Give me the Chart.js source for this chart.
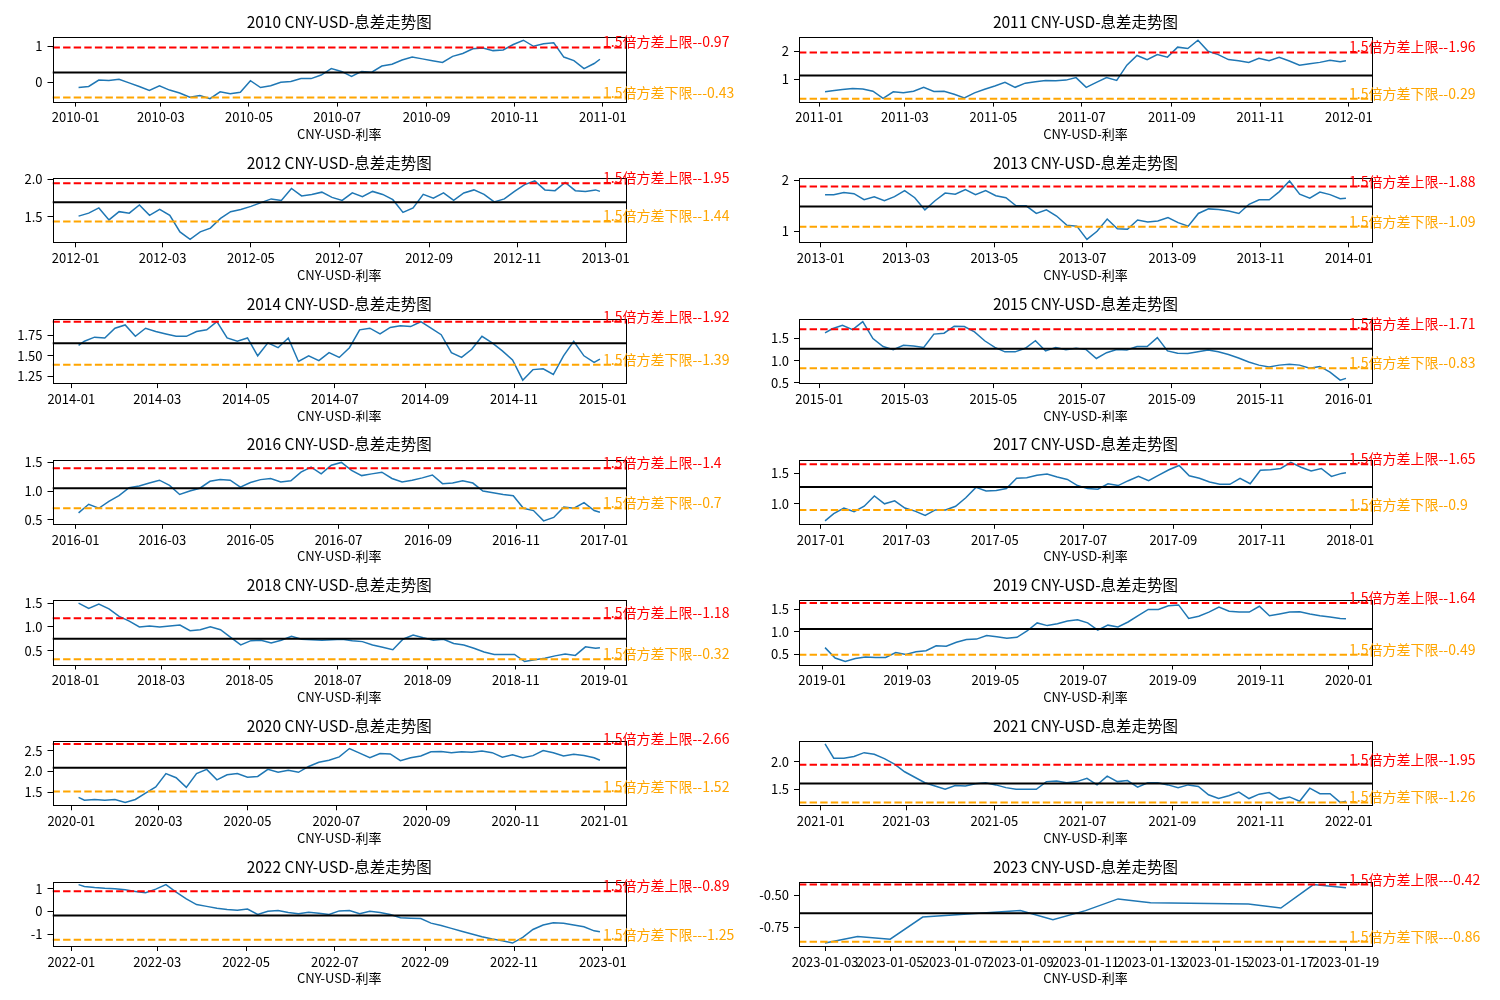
<!DOCTYPE html>
<html>
<head>
<meta charset="utf-8">
<script src="https://cdn.jsdelivr.net/npm/chart.js@4.4.0/dist/chart.umd.min.js"></script>
<style>
  html, body { margin: 0; padding: 0; background: #fff; }
  body { width: 1500px; height: 1000px; position: relative; overflow: hidden; }
  canvas { position: absolute; }
</style>
</head>
<body>
<script>
// ---------------- DATA ----------------
const years = [2010, 2011, 2012, 2013, 2014, 2015, 2016, 2017, 2018, 2019, 2020, 2021, 2022, 2023];
const chartTitleSuffix = ' CNY-USD-息差走势图';
const xAxisTitle = 'CNY-USD-利率';
const upperPrefix = '1.5倍方差上限--';
const lowerPrefix = '1.5倍方差下限--';

// sampling days (days after Jan 1) for the yearly series
const firstDays = [2, 4, 2, 3, 5, 4, 2, 3, 2, 2, 5, 3, 5];
const interiorDays = [9,16,23,30,37,44,51,58,65,72,79,86,93,100,107,114,121,128,135,142,149,156,163,170,177,184,191,198,205,212,219,226,233,240,247,254,261,268,275,282,289,296,303,310,317,324,331,338,345,352,359];
const lastDays = [363, 363, 362, 363, 363, 363, 363, 362, 362, 363, 363, 363, 363];

const spread2010 = [-0.15,-0.12,0.06,0.05,0.08,-0.02,-0.12,-0.23,-0.1,-0.22,-0.3,-0.42,-0.37,-0.46,-0.27,-0.32,-0.28,0.04,-0.15,-0.1,0.0,0.02,0.1,0.1,0.2,0.38,0.3,0.16,0.3,0.28,0.45,0.5,0.62,0.7,0.65,0.6,0.55,0.72,0.8,0.93,0.95,0.88,0.9,1.05,1.17,1.0,1.07,1.1,0.7,0.6,0.38,0.52,0.64];
const spread2011 = [0.54,0.58,0.62,0.66,0.64,0.56,0.3,0.54,0.5,0.56,0.7,0.55,0.56,0.45,0.32,0.5,0.63,0.75,0.88,0.7,0.85,0.9,0.95,0.94,0.96,1.05,0.7,0.88,1.05,0.95,1.5,1.85,1.7,1.88,1.79,2.15,2.1,2.4,2.0,1.88,1.7,1.66,1.6,1.75,1.66,1.78,1.65,1.5,1.55,1.6,1.68,1.62,1.66];
const spread2012 = [1.51,1.55,1.62,1.46,1.57,1.55,1.66,1.52,1.6,1.52,1.3,1.2,1.3,1.35,1.48,1.57,1.6,1.64,1.69,1.74,1.72,1.88,1.78,1.8,1.83,1.76,1.72,1.82,1.77,1.84,1.8,1.73,1.56,1.62,1.8,1.75,1.82,1.72,1.82,1.86,1.8,1.7,1.74,1.84,1.93,1.98,1.86,1.85,1.96,1.85,1.84,1.86,1.84];
const spread2013 = [1.72,1.72,1.76,1.74,1.62,1.68,1.6,1.68,1.8,1.66,1.42,1.6,1.75,1.73,1.82,1.72,1.8,1.7,1.66,1.5,1.5,1.35,1.42,1.3,1.12,1.1,0.84,1.0,1.24,1.05,1.04,1.22,1.18,1.2,1.27,1.17,1.1,1.35,1.44,1.43,1.4,1.35,1.53,1.62,1.62,1.78,1.99,1.73,1.65,1.77,1.72,1.64,1.65];
const spread2014 = [1.63,1.68,1.73,1.72,1.84,1.88,1.74,1.84,1.8,1.77,1.74,1.74,1.8,1.82,1.92,1.72,1.68,1.72,1.5,1.66,1.6,1.72,1.43,1.5,1.44,1.54,1.48,1.6,1.82,1.84,1.77,1.85,1.87,1.86,1.92,1.84,1.76,1.54,1.48,1.58,1.74,1.66,1.56,1.45,1.2,1.33,1.34,1.27,1.5,1.68,1.5,1.42,1.46];
const spread2015 = [1.63,1.72,1.8,1.7,1.88,1.5,1.32,1.25,1.35,1.33,1.3,1.6,1.62,1.78,1.77,1.65,1.45,1.3,1.2,1.2,1.28,1.45,1.22,1.3,1.25,1.28,1.25,1.05,1.18,1.25,1.24,1.32,1.32,1.52,1.22,1.17,1.16,1.2,1.24,1.2,1.14,1.06,0.97,0.9,0.86,0.9,0.92,0.9,0.83,0.87,0.74,0.56,0.6];
const spread2016 = [0.62,0.77,0.7,0.82,0.92,1.06,1.09,1.14,1.19,1.1,0.94,1.0,1.05,1.17,1.2,1.19,1.07,1.15,1.2,1.22,1.16,1.18,1.33,1.42,1.3,1.45,1.5,1.36,1.27,1.3,1.33,1.22,1.16,1.19,1.23,1.28,1.13,1.14,1.18,1.14,1.0,0.97,0.94,0.92,0.7,0.66,0.48,0.54,0.72,0.7,0.8,0.66,0.63];
const spread2017 = [0.72,0.84,0.93,0.87,0.96,1.13,1.0,1.05,0.93,0.88,0.81,0.9,0.9,0.96,1.1,1.27,1.21,1.22,1.25,1.42,1.43,1.47,1.49,1.44,1.4,1.3,1.25,1.24,1.33,1.3,1.38,1.45,1.38,1.47,1.56,1.63,1.46,1.42,1.36,1.32,1.32,1.42,1.33,1.55,1.56,1.58,1.68,1.6,1.54,1.58,1.45,1.5,1.51];
const spread2018 = [1.5,1.39,1.48,1.38,1.22,1.12,1.0,1.02,1.0,1.02,1.04,0.92,0.94,1.0,0.94,0.78,0.62,0.71,0.72,0.66,0.72,0.8,0.74,0.73,0.72,0.73,0.74,0.71,0.69,0.62,0.57,0.52,0.74,0.83,0.77,0.72,0.74,0.65,0.62,0.55,0.47,0.42,0.42,0.42,0.27,0.31,0.34,0.39,0.43,0.4,0.58,0.55,0.56];
const spread2019 = [0.65,0.42,0.34,0.41,0.44,0.43,0.43,0.54,0.5,0.56,0.58,0.69,0.68,0.77,0.83,0.84,0.92,0.89,0.86,0.88,1.02,1.2,1.14,1.18,1.24,1.27,1.2,1.04,1.15,1.11,1.22,1.36,1.5,1.5,1.58,1.6,1.3,1.35,1.44,1.55,1.46,1.44,1.44,1.57,1.36,1.4,1.44,1.45,1.4,1.36,1.33,1.3,1.29];
const spread2020 = [1.38,1.31,1.33,1.31,1.33,1.26,1.33,1.48,1.63,1.95,1.85,1.62,1.95,2.05,1.8,1.92,1.95,1.86,1.88,2.05,1.98,2.03,1.98,2.12,2.22,2.27,2.35,2.55,2.44,2.33,2.43,2.42,2.26,2.33,2.37,2.47,2.48,2.45,2.47,2.46,2.49,2.45,2.34,2.4,2.33,2.38,2.5,2.45,2.37,2.41,2.38,2.33,2.27];
const spread2021 = [2.33,2.07,2.07,2.1,2.17,2.14,2.06,1.96,1.82,1.72,1.62,1.56,1.5,1.57,1.56,1.6,1.62,1.58,1.53,1.5,1.5,1.5,1.64,1.65,1.62,1.64,1.7,1.58,1.74,1.64,1.66,1.54,1.62,1.62,1.58,1.53,1.58,1.55,1.4,1.33,1.38,1.45,1.33,1.41,1.44,1.32,1.36,1.28,1.52,1.42,1.42,1.26,1.28];
const spread2022 = [1.18,1.1,1.05,1.02,1.0,0.95,0.88,0.82,0.98,1.18,0.85,0.55,0.3,0.22,0.14,0.08,0.05,0.1,-0.14,0.0,0.04,-0.05,-0.1,-0.04,-0.08,-0.14,0.02,0.04,-0.1,0.0,-0.05,-0.14,-0.28,-0.3,-0.32,-0.52,-0.62,-0.75,-0.88,-1.0,-1.12,-1.22,-1.3,-1.4,-1.15,-0.8,-0.6,-0.5,-0.52,-0.6,-0.68,-0.86,-0.9];

const days2023 = [2, 3, 4, 5, 8, 9, 10, 11, 12, 15, 16, 17, 18];
const spread2023 = [-0.87, -0.82, -0.84, -0.67, -0.62, -0.69, -0.62, -0.53, -0.56, -0.57, -0.60, -0.42, -0.445];

const upperLimits = [0.97, 1.96, 1.95, 1.88, 1.92, 1.71, 1.4, 1.65, 1.18, 1.64, 2.66, 1.95, 0.89, -0.42];
const lowerLimits = [-0.43, 0.29, 1.44, 1.09, 1.39, 0.83, 0.7, 0.9, 0.32, 0.49, 1.52, 1.26, -1.25, -0.86];
const meanLines   = [0.27, 1.125, 1.695, 1.485, 1.655, 1.27, 1.05, 1.275, 0.75, 1.065, 2.09, 1.605, -0.18, -0.64];

const yTickLabels = [
  ['0', '1'], ['1', '2'], ['1.5', '2.0'], ['1', '2'], ['1.25', '1.50', '1.75'],
  ['0.5', '1.0', '1.5'], ['0.5', '1.0', '1.5'], ['1.0', '1.5'], ['0.5', '1.0', '1.5'],
  ['0.5', '1.0', '1.5'], ['1.5', '2.0', '2.5'], ['1.5', '2.0'], ['-1', '0', '1'], ['-0.75', '-0.50']
];
const monthTicks = ['01', '03', '05', '07', '09', '11'];
const dayTicks2023 = ['2023-01-03', '2023-01-05', '2023-01-07', '2023-01-09', '2023-01-11', '2023-01-13', '2023-01-15', '2023-01-17', '2023-01-19'];

const seriesByYear = [spread2010, spread2011, spread2012, spread2013, spread2014, spread2015, spread2016,
                      spread2017, spread2018, spread2019, spread2020, spread2021, spread2022];

// ---------------- LAYOUT ----------------
const FONT = '"Noto Sans CJK SC", "Noto Sans", sans-serif';
Chart.defaults.font.family = FONT;
Chart.defaults.color = '#000';

const axesTops = [37.3, 178.0, 318.8, 459.5, 600.2, 741.0, 881.7];
const AX_H = 64.3;
const colLeft = [52.5, 799];
const colRight = [626, 1372];
const CV_W = 750, CV_H = 141;

const DAY = 86400000;
// days elapsed since Jan 1 of baseYear
function dayOf(baseYear, y, m, d) { return (Date.UTC(y, m - 1, d) - Date.UTC(baseYear, 0, 1)) / DAY; }

function textPlugin(p) {
  return {
    id: 'panelText',
    afterDraw(chart) {
      const { ctx, chartArea: a, scales } = chart;
      ctx.save();
      ctx.strokeStyle = '#000';
      ctx.lineWidth = 1;
      const l = Math.round(a.left) + 0.5, t = Math.round(a.top) + 0.5;
      const r = Math.round(a.right) + 0.5, b = Math.round(a.bottom) + 0.5;
      ctx.strokeRect(l, t, r - l, b - t);
      ctx.fillStyle = '#000';
      ctx.textAlign = 'center';
      ctx.textBaseline = 'middle';
      ctx.font = '15.5px ' + FONT;
      ctx.fillText(p.title, (a.left + a.right) / 2, a.top - 15);
      ctx.font = '13px ' + FONT;
      ctx.fillText(xAxisTitle, (a.left + a.right) / 2, a.bottom + 32.5);
      ctx.textAlign = 'left';
      ctx.textBaseline = 'alphabetic';
      ctx.font = '14px ' + FONT;
      const tx = a.left + 0.96 * (a.right - a.left);
      ctx.fillStyle = '#ff0000';
      ctx.fillText(p.upperText, tx, scales.y.getPixelForValue(p.upper));
      ctx.fillStyle = '#ffa500';
      ctx.fillText(p.lowerText, tx, scales.y.getPixelForValue(p.lower));
      ctx.restore();
    }
  };
}

years.forEach((year, i) => {
  const col = i % 2, row = Math.floor(i / 2);
  const cvLeft = col * 750;
  const cvTop = Math.floor(axesTops[row]) - 37;
  const cv = document.createElement('canvas');
  cv.width = CV_W; cv.height = CV_H;
  cv.style.left = cvLeft + 'px';
  cv.style.top = cvTop + 'px';
  cv.style.width = CV_W + 'px';
  cv.style.height = CV_H + 'px';
  document.body.appendChild(cv);

  const padTop = axesTops[row] - cvTop;
  const yW = colLeft[col] - cvLeft;
  const padRight = cvLeft + CV_W - colRight[col];
  const xH = CV_H - padTop - AX_H;

  let xs, vals, xTickVals, xTickLabels;
  if (year === 2023) {
    xs = days2023; vals = spread2023;
    xTickLabels = dayTicks2023;
    xTickVals = dayTicks2023.map(s => { const [yy, mm, dd] = s.split('-').map(Number); return dayOf(year, yy, mm, dd); });
  } else {
    xs = [firstDays[i], ...interiorDays, lastDays[i]];
    vals = seriesByYear[i];
    xTickLabels = monthTicks.map(m => year + '-' + m).concat([(year + 1) + '-01']);
    xTickVals = monthTicks.map(m => dayOf(year, year, Number(m), 1)).concat([dayOf(year, year + 1, 1, 1)]);
  }
  const points = xs.map((x, k) => ({ x: x, y: vals[k] }));

  const x0 = xs[0], x1 = xs[xs.length - 1];
  const xm = (x1 - x0) * 0.05;
  const xmin = x0 - xm, xmax = x1 + xm;
  const up = upperLimits[i], lo = lowerLimits[i], mean = meanLines[i];
  const dmin = Math.min(Math.min(...vals), lo, up, mean);
  const dmax = Math.max(Math.max(...vals), lo, up, mean);
  const ym = (dmax - dmin) * 0.05;
  const ymin = dmin - ym, ymax = dmax + ym;
  const yLabels = yTickLabels[i];
  const yVals = yLabels.map(Number);

  const hline = (v) => [{ x: xmin, y: v }, { x: xmax, y: v }];

  new Chart(cv, {
    type: 'line',
    data: {
      datasets: [
        { data: hline(mean), borderColor: '#000000', borderWidth: 2, pointRadius: 0, fill: false },
        { data: hline(up), borderColor: '#ff0000', borderWidth: 2, borderDash: [7.4, 3.2], pointRadius: 0, fill: false },
        { data: hline(lo), borderColor: '#ffa500', borderWidth: 2, borderDash: [7.4, 3.2], pointRadius: 0, fill: false },
        { data: points, borderColor: '#1f77b4', borderWidth: 1.5, pointRadius: 0, tension: 0, fill: false }
      ]
    },
    options: {
      responsive: false,
      animation: false,
      events: [],
      layout: { padding: { top: padTop, right: padRight, left: 0, bottom: 0 } },
      plugins: { legend: { display: false }, tooltip: { enabled: false }, title: { display: false } },
      scales: {
        x: {
          type: 'linear', min: xmin, max: xmax, bounds: 'data',
          afterBuildTicks: (s) => { s.ticks = xTickVals.map(v => ({ value: v })); },
          afterFit: (s) => { s.height = xH; },
          ticks: {
            autoSkip: false, maxRotation: 0, minRotation: 0, padding: 3, color: '#000',
            font: { size: 13, family: FONT },
            callback: (v, idx) => xTickLabels[idx]
          },
          grid: { drawOnChartArea: false, drawTicks: true, tickLength: 5, color: '#000', lineWidth: 1 },
          border: { display: false }
        },
        y: {
          type: 'linear', min: ymin, max: ymax, bounds: 'data',
          afterBuildTicks: (s) => { s.ticks = yVals.map(v => ({ value: v })); },
          afterFit: (s) => { s.width = yW; },
          ticks: {
            autoSkip: false, padding: 5, color: '#000',
            font: { size: 13, family: FONT },
            callback: (v, idx) => yLabels[idx]
          },
          grid: { drawOnChartArea: false, drawTicks: true, tickLength: 5, color: '#000', lineWidth: 1 },
          border: { display: false }
        }
      }
    },
    plugins: [textPlugin({
      title: year + chartTitleSuffix,
      upper: up, lower: lo,
      upperText: upperPrefix + up,
      lowerText: lowerPrefix + lo
    })]
  });
});
</script>
</body>
</html>
